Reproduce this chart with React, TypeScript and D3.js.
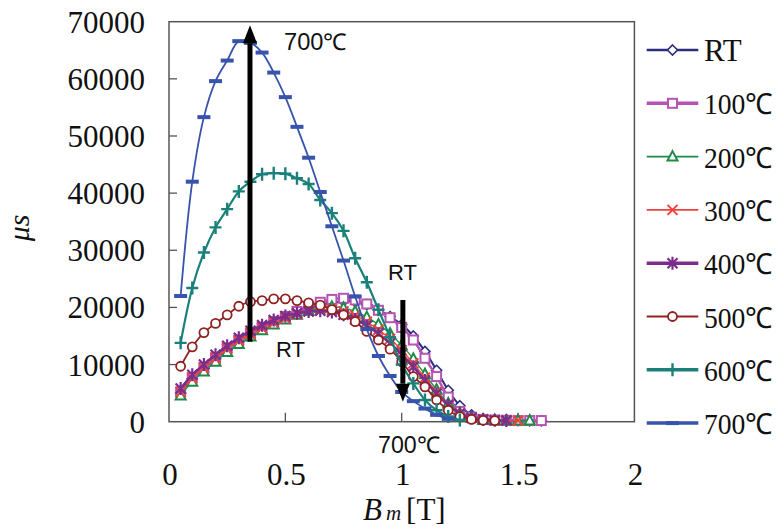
import React from "react";
import * as d3 from "d3";

const W = 779;
const H = 531;

const xTicks = [0, 0.5, 1, 1.5, 2];
const yTicks = [0, 10000, 20000, 30000, 40000, 50000, 60000, 70000];

const seriesNames = ["RT", "100℃", "200℃", "300℃", "400℃", "500℃", "600℃", "700℃"];

const rt = [5000, 7500, 9300, 11000, 12700, 14100, 15300, 16400, 17400, 18300, 19100, 19800, 20400, 20800, 21100, 21000, 20500, 19600, 18400, 17000, 15000, 12300, 9000, 5500, 2800, 1200, 500, 300, 200, 200, 150, 150];
const t100 = [5200, 7700, 9500, 11200, 12900, 14300, 15500, 16500, 17500, 18400, 19300, 20200, 20900, 21400, 21600, 21300, 20600, 19500, 18200, 16500, 14300, 11100, 7900, 4300, 1800, 800, 400, 300, 250, 200, 200, 200];
const t200 = [4600, 7000, 8800, 10500, 12200, 13600, 14900, 16000, 17000, 17900, 18700, 19400, 19900, 20100, 19900, 19300, 18300, 17000, 15400, 13400, 11000, 8300, 5600, 3200, 1500, 700, 350, 250, 200, 200, 200];
const t300 = [5200, 7600, 9400, 11100, 12800, 14200, 15400, 16400, 17300, 18100, 18800, 19300, 19600, 19600, 19300, 18600, 17500, 16100, 14500, 12500, 10200, 7700, 5200, 3000, 1500, 700, 400, 250, 200, 200];
const t400 = [5800, 8200, 10000, 11700, 13300, 14700, 15900, 16900, 17800, 18500, 19000, 19300, 19400, 19200, 18700, 17900, 16800, 15400, 13700, 11800, 9600, 7200, 4900, 2900, 1400, 700, 400, 250, 200];
const t500 = [9700, 13100, 15600, 17200, 18700, 20200, 21000, 21200, 21500, 21500, 21200, 20800, 20400, 19600, 18700, 17500, 15800, 14300, 12700, 10500, 7900, 6100, 3800, 2000, 900, 400, 250, 200];
const t600 = [13800, 23400, 29600, 34000, 37200, 40300, 42000, 43300, 43500, 43400, 42600, 41600, 38800, 36500, 33400, 28600, 24400, 19600, 14800, 10000, 6700, 3800, 2000, 900, 300];
const t700 = [22000, 42000, 53300, 59600, 63200, 66600, 66300, 64600, 61100, 56800, 51600, 46200, 40200, 34200, 28200, 21900, 16200, 11500, 8000, 5200, 3600, 2300, 1200, 500];

const bStart = 0.05;
const bStep = 0.05;

const seriesValues = [rt, t100, t200, t300, t400, t500, t600, t700];

const colors = ["#2d2d80", "#b455b4", "#1f8a48", "#f0413f", "#7b2d8b", "#8e2222", "#1b8079", "#3853ab"];
const lineWidths = [2, 2.5, 1.3, 1.3, 2.5, 1.8, 2.2, 1.8];
const legendWidths = [2.5, 3.5, 1.6, 1.6, 3.5, 2.2, 3.5, 3.5];
const shapes = ["diamond", "square", "triangle", "x", "asterisk", "circle", "plus", "dash"];

const serif = "Liberation Serif, serif";
const sans = "Liberation Sans, Arial, sans-serif";

function Marker({ shape, x, y, color }: { shape: string; x: number; y: number; color: string }) {
  const s = 5;
  switch (shape) {
    case "diamond":
      return <path d={`M${x},${y - s}L${x + s},${y}L${x},${y + s}L${x - s},${y}Z`} fill="white" stroke={color} strokeWidth={1.6} />;
    case "square":
      return <rect x={x - 4.5} y={y - 4.5} width={9} height={9} fill="white" stroke={color} strokeWidth={2} />;
    case "triangle":
      return <path d={`M${x},${y - 5.5}L${x + 5},${y + 4}L${x - 5},${y + 4}Z`} fill="white" stroke={color} strokeWidth={2} />;
    case "x":
      return <path d={`M${x - 5},${y - 5}L${x + 5},${y + 5}M${x - 5},${y + 5}L${x + 5},${y - 5}`} stroke={color} strokeWidth={2} />;
    case "asterisk":
      return <path d={`M${x - 5},${y - 5}L${x + 5},${y + 5}M${x - 5},${y + 5}L${x + 5},${y - 5}M${x},${y - 6.5}L${x},${y + 6.5}`} stroke={color} strokeWidth={2.2} />;
    case "circle":
      return <circle cx={x} cy={y} r={4.5} fill="white" stroke={color} strokeWidth={1.8} />;
    case "plus":
      return <path d={`M${x - 6},${y}L${x + 6},${y}M${x},${y - 6.5}L${x},${y + 6.5}`} stroke={color} strokeWidth={2.4} />;
    case "dash":
      return <path d={`M${x - 6.5},${y}L${x + 6.5},${y}`} stroke={color} strokeWidth={4} />;
    default:
      return null;
  }
}

export default function App() {
  const left = 169, right = 634.4, top = 21.7, bottom = 421.7;
  const x = d3.scaleLinear().domain([0, 2]).range([left, right]);
  const y = d3.scaleLinear().domain([0, 70000]).range([bottom, top]);

  const line = d3
    .line<[number, number]>()
    .x((d) => x(d[0]))
    .y((d) => y(d[1]))
    .curve(d3.curveCatmullRom.alpha(0.5));

  const series = seriesValues.map((vals) => vals.map((v, i) => [bStart + i * bStep, v] as [number, number]));

  const legendY0 = 50;
  const legendDy = 53.3;

  const arrow = (x0: number, y0: number, y1: number) => {
    const px = x(x0);
    const py0 = y(y0);
    const py1 = y(y1);
    const dir = py1 < py0 ? -1 : 1;
    const headLen = 18;
    const headHalf = 7;
    const shaftEnd = py1 - dir * headLen;
    return (
      <g>
        <line x1={px} y1={py0} x2={px} y2={shaftEnd} stroke="black" strokeWidth={5} />
        <path d={`M${px},${py1}L${px - headHalf},${shaftEnd}L${px + headHalf},${shaftEnd}Z`} fill="black" />
      </g>
    );
  };

  return (
    <svg width={W} height={H} style={{ position: "absolute", left: 0, top: 0, background: "white" }}>
      <rect x={0} y={0} width={W} height={H} fill="white" />
      <rect x={left} y={top} width={right - left} height={bottom - top} fill="none" stroke="#555" strokeWidth={1.5} />
      {yTicks.map((t) => (
        <g key={"y" + t}>
          {t > 0 && t < 70000 && <line x1={left} x2={left + 8} y1={y(t)} y2={y(t)} stroke="#555" strokeWidth={1.3} />}
          <text x={145} y={y(t) + 11} textAnchor="end" fontFamily={serif} fontSize={31} fill="#111">
            {t}
          </text>
        </g>
      ))}
      {xTicks.map((t) => (
        <g key={"x" + t}>
          {t > 0 && t < 2 && <line x1={x(t)} x2={x(t)} y1={bottom} y2={bottom - 9} stroke="#555" strokeWidth={1.3} />}
          <text x={x(t) + 1} y={485} textAnchor="middle" fontFamily={serif} fontSize={31} fill="#111">
            {t}
          </text>
        </g>
      ))}
      <text x={363} y={520} fontFamily={serif} fontSize={31} fill="#111">
        <tspan fontStyle="italic">B</tspan>
        <tspan fontStyle="italic" fontSize={21} dx={4}>m</tspan>
        <tspan dx={5}>[T]</tspan>
      </text>
      <text transform="translate(29,228) rotate(-90)" textAnchor="middle" fontFamily={serif} fontStyle="italic" fontSize={30} fill="#111">
        μs
      </text>
      {series.map((pts, i) => (
        <g key={"s" + i}>
          <path d={line(pts) || ""} fill="none" stroke={colors[i]} strokeWidth={lineWidths[i]} />
          {pts.map((p, j) => (
            <Marker key={j} shape={shapes[i]} x={x(p[0])} y={y(p[1])} color={colors[i]} />
          ))}
        </g>
      ))}
      {arrow(0.348, 14000, 69400)}
      {arrow(1.005, 21300, 3500)}
      <text x={284} y={50} fontFamily={sans} fontSize={23} fill="#111" textLength={63} lengthAdjust="spacingAndGlyphs">700℃</text>
      <text x={388} y={280} fontFamily={sans} fontSize={22} fill="#111">RT</text>
      <text x={276} y={357} fontFamily={sans} fontSize={22} fill="#111">RT</text>
      <text x={378} y={453} fontFamily={sans} fontSize={23} fill="#111" textLength={62} lengthAdjust="spacingAndGlyphs">700℃</text>
      {seriesNames.map((name, i) => {
        const ly = legendY0 + i * legendDy;
        const isTemp = name !== "RT";
        return (
          <g key={"l" + i}>
            <line x1={646.7} x2={698.3} y1={ly} y2={ly} stroke={colors[i]} strokeWidth={legendWidths[i]} />
            <Marker shape={shapes[i]} x={672.5} y={ly} color={colors[i]} />
            <text
              x={704}
              y={ly + 11}
              fontFamily={serif}
              fontSize={isTemp ? 29 : 31}
              fill="#111"
              {...(isTemp ? { textLength: 69, lengthAdjust: "spacingAndGlyphs" } : {})}
            >
              {name}
            </text>
          </g>
        );
      })}
    </svg>
  );
}
